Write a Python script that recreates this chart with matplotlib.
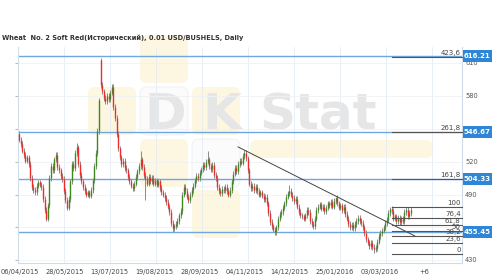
import matplotlib.pyplot as plt
import matplotlib.patches as mpatches
import matplotlib.transforms as mtransforms
from matplotlib.transforms import IdentityTransform

# Data
title = 'Wheat  No. 2 Soft Red(Исторический), 0.01 USD/BUSHELS, Daily'

closes = [540, 536, 530, 526, 521, 524, 518, 505, 497, 494,
          492, 498, 501, 499, 497, 486, 476, 468, 480, 505,
          516, 512, 522, 526, 515, 512, 507, 504, 493, 485,
          478, 486, 502, 518, 514, 528, 533, 518, 508, 502,
          497, 493, 490, 492, 489, 494, 503, 516, 528, 548,
          576, 590, 584, 578, 575, 580, 577, 583, 588, 570,
          560, 545, 532, 524, 518, 521, 514, 512, 506, 502,
          498, 496, 500, 506, 511, 516, 522, 515, 508, 504,
          500, 506, 502, 505, 500, 503, 499, 502, 496, 492,
          490, 487, 483, 479, 474, 464, 459, 461, 463, 466,
          471, 475, 490, 497, 493, 488, 485, 490, 494, 498,
          503, 507, 505, 510, 513, 517, 515, 520, 522, 516,
          513, 517, 508, 505, 497, 493, 491, 495, 494, 497,
          493, 490, 494, 502, 509, 514, 511, 518, 521, 519,
          525, 528, 523, 512, 500, 496, 498, 494, 497, 493,
          490, 492, 489, 486, 488, 482, 473, 465, 461, 458,
          456, 460, 468, 472, 474, 478, 482, 488, 491, 493,
          490, 487, 484, 486, 479, 474, 471, 470, 468, 471,
          476, 474, 466, 463, 461, 468, 476, 479, 481, 477,
          479, 475, 478, 482, 480, 483, 479, 484, 487, 482,
          478, 480, 476, 479, 472, 468, 463, 460, 462, 459,
          463, 466, 469, 466, 464, 460, 455, 449, 446, 443,
          446, 442, 440, 441, 447, 452, 455, 457, 460, 464,
          467, 473, 477, 475, 468, 470, 466, 469, 465, 468,
          466, 474, 476, 470, 473, 476]
first_open = 545
open_override = {51: 613}
high_override = {51: 615, 36: 537, 76: 530, 118: 530, 141: 531, 169: 499, 198: 488, 232: 479}
low_override = {17: 466, 30: 476, 79: 485, 96: 456, 160: 453, 222: 437}

date_labels = ['06/04/2015', '28/05/2015', '13/07/2015', '19/08/2015', '28/09/2015',
               '04/11/2015', '14/12/2015', '25/01/2016', '03/03/2016', '+6']
y_ticks = [430, 460, 490, 520, 550, 580, 610]
y_labels_shown = [430, 490, 520, 580, 610]
level_boxes = [616.21, 546.67, 504.33, 455.45]

fib_low = 435.8
fib_high = 478.2
ext_labels = ['423,6', '261,8', '161,8']
ext_ratios = [4.236, 2.618, 1.618]
ret_labels = ['100', '76,4', '61,8', '50', '38,2', '23,6', '0']
ret_ratios = [1.0, 0.764, 0.618, 0.5, 0.382, 0.236, 0.0]

trend_x = [137, 247.5]
trend_y = [533.4, 452.2]

# opens / highs / lows
opens = [first_open] + closes[:-1]
for k, v in open_override.items():
    opens[k] = v
wick = 2.5
highs = [max(o, c) + wick for o, c in zip(opens, closes)]
lows = [min(o, c) - wick for o, c in zip(opens, closes)]
for k, v in high_override.items():
    highs[k] = v
for k, v in low_override.items():
    lows[k] = v

fig = plt.figure(figsize=(5, 2.8), dpi=100)
ax = fig.add_axes([18 / 500, 1 - 263 / 280, 444 / 500, 216 / 280])
ax.set_facecolor('none')

# watermark (image pixel coords)
def px(x, y, w, h):
    return (x, 280 - y - h, w, h)

tiles_yellow = [(140, 35), (88, 87), (192, 87), (140, 139), (192, 190)]
for tx, ty in tiles_yellow:
    x0, y0, w, h = px(tx, ty, 48, 48)
    fig.patches.append(mpatches.FancyBboxPatch((x0, y0), w, h, boxstyle='round,pad=0,rounding_size=7',
                                               transform=IdentityTransform(), fc='#fdf7e1', ec='none', zorder=-2))
for tx, ty in [(140, 87), (192, 139)]:
    x0, y0, w, h = px(tx, ty, 48, 48)
    fig.patches.append(mpatches.FancyBboxPatch((x0, y0), w, h, boxstyle='round,pad=0,rounding_size=7',
                                               transform=IdentityTransform(), fc='#fbfbfb', ec='#efefef', lw=0.6, zorder=-2))
x0, y0, w, h = px(250, 140, 183, 18)
fig.patches.append(mpatches.FancyBboxPatch((x0, y0), w, h, boxstyle='round,pad=0,rounding_size=7',
                                           transform=IdentityTransform(), fc='#fdf7e1', ec='none', zorder=-2))
for txt, tx in [('D', 165), ('K', 222), ('Stat', 318)]:
    fig.text(tx / 500, 1 - 115 / 280, txt, fontsize=36, fontweight='bold', color='#e6e6e6',
             ha='center', va='center', zorder=-1)

n = len(closes)
xs = list(range(n))

# grid
for k in range(10):
    ax.axvline(-0.6 + 28.75 * k, color='#e4ecf3', lw=0.6, zorder=0)
for yv in y_ticks:
    ax.axhline(yv, color='#eef2f6', lw=0.6, zorder=0)

# blue levels
for lv in level_boxes:
    ax.axhline(lv, color='#6ea8e2', lw=1.0, zorder=1)

# candles
up = [c >= o for o, c in zip(opens, closes)]
ax.vlines(xs, lows, highs, color='#8a8a8a', lw=0.7, zorder=2)
ax.vlines([x for x, u in zip(xs, up) if u], [o for o, u in zip(opens, up) if u],
          [c for c, u in zip(closes, up) if u], color='#3c8a1e', lw=1.0, zorder=3)
ax.vlines([x for x, u in zip(xs, up) if not u], [o for o, u in zip(opens, up) if not u],
          [c for c, u in zip(closes, up) if not u], color='#ee2b2b', lw=1.0, zorder=3)

# trend line
ax.plot(trend_x, trend_y, color='#444444', lw=0.7, zorder=4)

# fibonacci
rng = fib_high - fib_low
x_fib0, x_fib1 = 233, 277
for lab, r in zip(ext_labels + ret_labels, ext_ratios + ret_ratios):
    yv = fib_low + r * rng
    ax.plot([x_fib0, x_fib1], [yv, yv], color='#555555', lw=0.8, zorder=4, clip_on=False)
    ax.text(276.2, yv + 0.9, lab, fontsize=5, color='#444444', ha='right', va='bottom', zorder=5)

ax.set_xlim(-0.6, 277)
ax.set_ylim(427.5, 624.6)

# axes styling
ax.spines['top'].set_visible(False)
for s in ['left', 'bottom', 'right']:
    ax.spines[s].set_color('#cfdcea')
    ax.spines[s].set_linewidth(0.8)
ax.set_xticks([])
ax.set_yticks(y_ticks)
ax.tick_params(axis='y', left=True, length=2, color='#bbbbbb', labelleft=False, right=False)

# y labels (550 and 460 sit under the value boxes)
trans_b = mtransforms.blended_transform_factory(ax.transAxes, ax.transData)
for yv in y_labels_shown:
    ax.text(1.0068, yv, str(yv), transform=trans_b,
            fontsize=4.8, color='#555555', ha='left', va='center', clip_on=False, zorder=5)

# x labels
trans_x = mtransforms.blended_transform_factory(ax.transData, ax.transAxes)
for k, lab in enumerate(date_labels):
    ax.text(0.3 + 28.125 * k, -0.04, lab, transform=trans_x, fontsize=4.8, color='#444444',
            ha='center', va='center', clip_on=False)

# value boxes
for lv in level_boxes:
    ax.add_patch(mpatches.Rectangle((1.002, lv - 5.3), 0.0653, 10.7, transform=trans_b,
                                    fc='#2f86d6', ec='none', clip_on=False, zorder=6))
    ax.text(1.002 + 0.0327, lv, f'{lv:.2f}', transform=trans_b, fontsize=5, fontweight='bold',
            color='white', ha='center', va='center', clip_on=False, zorder=7)

fig.text(2 / 500, 1 - 37.7 / 280, title, fontsize=4.75, fontweight='bold', color='#333333',
         ha='left', va='center')

fig.savefig('out.png', dpi=100)
